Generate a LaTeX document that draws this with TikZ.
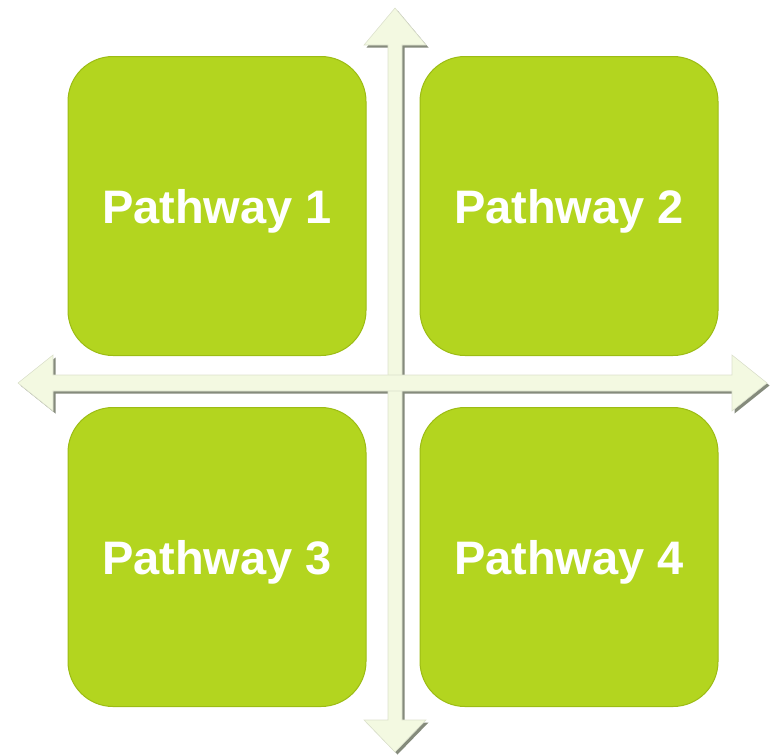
\documentclass[tikz,border=0pt]{standalone}
\usepackage{fontspec}
\setmainfont{Liberation Sans}
\definecolor{leaf}{HTML}{B3D51F}
\definecolor{leafedge}{HTML}{9CBC14}
\definecolor{axisfill}{HTML}{F3F9E1}
\definecolor{axisshade}{HTML}{858B7C}
\tikzset{
    pathbox/.style = {draw = leafedge, fill = leaf, line width = 1pt, rounded corners = 45pt,
        minimum width = 298pt, minimum height = 299pt, text = white, text depth = 0pt,
        font = \fontsize{47}{50}\selectfont\bfseries},
    axisbody/.style = {fill = axisfill, draw = axisfill!80!gray, line width = 0.6pt},
    axisshadow/.style = {fill = axisshade, draw = none},
}
\newcommand{\vertaxis}{(395,8) -- (426,45) -- (402,45) -- (402,720) -- (426,720) -- (395,752)
    -- (364,720) -- (388,720) -- (388,45) -- (364,45) -- cycle}
\newcommand{\horzaxis}{(18,383) -- (53,355) -- (53,375) -- (732,375) -- (732,355) -- (767,383)
    -- (732,411) -- (732,391) -- (53,391) -- (53,411) -- cycle}
\begin{document}
\begin{tikzpicture}[x = 1pt, y = -1pt]
    \useasboundingbox (0,0) rectangle (770,755);
    \foreach \n/\x/\y in {1/217/206, 2/569/206, 3/217/557, 4/569/557}
        \node[pathbox] (p\n) at (\x,\y) {Pathway \n};
    % axes: shadows first, then the light bodies
    \begin{scope}[shift = {(2.5,2.5)}]
        \fill[axisshadow] \vertaxis;
        \fill[axisshadow] \horzaxis;
    \end{scope}
    \draw[axisbody] \vertaxis;
    \draw[axisbody] \horzaxis;
\end{tikzpicture}
\end{document}
